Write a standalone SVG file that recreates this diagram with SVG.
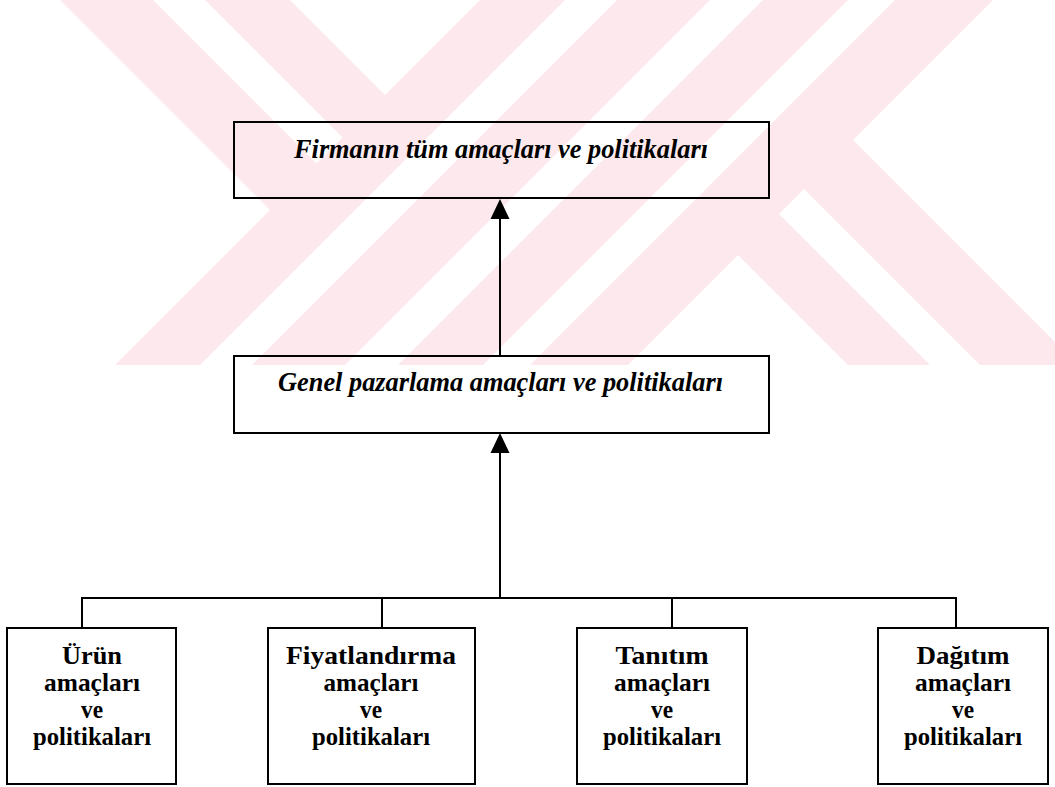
<svg xmlns="http://www.w3.org/2000/svg" width="1055" height="787" viewBox="0 0 1055 787">
  <defs>
    <marker id="arrow" viewBox="0 0 20 20" refX="13" refY="10" markerWidth="20" markerHeight="20" markerUnits="userSpaceOnUse" orient="auto">
      <path d="M0,0.5 L20,10 L0,19.5 Z" fill="#000"/>
    </marker>
    <style>
      .mark { fill: #fde9ed; stroke: none; }
      .box { fill: none; stroke: #000; stroke-width: 2; }
      .wire { fill: none; stroke: #000; stroke-width: 2; }
      .title { font-family: "Liberation Serif", "Times New Roman", serif; font-weight: bold; font-style: italic; font-size: 27px; fill: #000; }
      .leaf { font-family: "Liberation Serif", "Times New Roman", serif; font-weight: bold; font-size: 26px; fill: #000; text-anchor: middle; }
    </style>
  </defs>

  <rect width="1055" height="787" fill="#fff"/>

  <!-- background watermark stripes -->
  <g id="watermark">
    <!-- upper-left arm, two strips -->
    <polygon class="mark" points="60,0 153,0 336.5,183.5 290,230"/>
    <polygon class="mark" points="205,0 290,0 405,115 362.5,157.5"/>
    <!-- first long diagonal band -->
    <polygon class="mark" points="480,0 565,0 200,365 115,365"/>
    <polygon class="mark" points="617,0 710,0 345,365 252,365"/>
    <!-- second long diagonal band -->
    <polygon class="mark" points="763,0 848,0 483,365 398,365"/>
    <polygon class="mark" points="895,0 993,0 628,365 530,365"/>
    <!-- lower-right arm, two strips -->
    <polygon class="mark" points="752.5,187.5 930,365 848,365 711.5,228.5"/>
    <polygon class="mark" points="777.5,162.5 826.5,113.5 1078,365 980,365"/>
  </g>

  <!-- connectors -->
  <g id="connectors">
    <line class="wire" x1="500" y1="356" x2="500" y2="206" marker-end="url(#arrow)"/>
    <line class="wire" x1="500" y1="598" x2="500" y2="440" marker-end="url(#arrow)"/>
    <line class="wire" x1="82" y1="598" x2="956" y2="598"/>
    <line class="wire" x1="82" y1="597" x2="82" y2="628"/>
    <line class="wire" x1="382" y1="597" x2="382" y2="628"/>
    <line class="wire" x1="672" y1="597" x2="672" y2="628"/>
    <line class="wire" x1="956" y1="597" x2="956" y2="628"/>
  </g>

  <g id="firm">
    <rect class="box" x="234" y="122" width="535" height="76"/>
    <text class="title" x="294" y="158" textLength="414" lengthAdjust="spacingAndGlyphs">Firmanın tüm amaçları ve politikaları</text>
  </g>

  <g id="marketing">
    <rect class="box" x="234" y="356" width="535" height="77"/>
    <text class="title" x="278" y="391" textLength="445" lengthAdjust="spacingAndGlyphs">Genel pazarlama amaçları ve politikaları</text>
  </g>

  <g id="product">
    <rect class="box" x="7" y="628" width="169" height="156"/>
    <text class="leaf" x="92" y="664" textLength="60" lengthAdjust="spacingAndGlyphs">Ürün</text>
    <text class="leaf" x="92" y="691" textLength="96" lengthAdjust="spacingAndGlyphs">amaçları</text>
    <text class="leaf" x="92" y="718" textLength="22" lengthAdjust="spacingAndGlyphs">ve</text>
    <text class="leaf" x="92" y="745" textLength="118" lengthAdjust="spacingAndGlyphs">politikaları</text>
  </g>

  <g id="pricing">
    <rect class="box" x="268" y="628" width="207" height="156"/>
    <text class="leaf" x="371" y="664" textLength="170" lengthAdjust="spacingAndGlyphs">Fiyatlandırma</text>
    <text class="leaf" x="371" y="691" textLength="95" lengthAdjust="spacingAndGlyphs">amaçları</text>
    <text class="leaf" x="371" y="718" textLength="22" lengthAdjust="spacingAndGlyphs">ve</text>
    <text class="leaf" x="371" y="745" textLength="118" lengthAdjust="spacingAndGlyphs">politikaları</text>
  </g>

  <g id="promotion">
    <rect class="box" x="577" y="628" width="170" height="156"/>
    <text class="leaf" x="662" y="664" textLength="93" lengthAdjust="spacingAndGlyphs">Tanıtım</text>
    <text class="leaf" x="662" y="691" textLength="96" lengthAdjust="spacingAndGlyphs">amaçları</text>
    <text class="leaf" x="662" y="718" textLength="22" lengthAdjust="spacingAndGlyphs">ve</text>
    <text class="leaf" x="662" y="745" textLength="118" lengthAdjust="spacingAndGlyphs">politikaları</text>
  </g>

  <g id="distribution">
    <rect class="box" x="878" y="628" width="170" height="156"/>
    <text class="leaf" x="963" y="664" textLength="93" lengthAdjust="spacingAndGlyphs">Dağıtım</text>
    <text class="leaf" x="963" y="691" textLength="96" lengthAdjust="spacingAndGlyphs">amaçları</text>
    <text class="leaf" x="963" y="718" textLength="22" lengthAdjust="spacingAndGlyphs">ve</text>
    <text class="leaf" x="963" y="745" textLength="118" lengthAdjust="spacingAndGlyphs">politikaları</text>
  </g>
</svg>
